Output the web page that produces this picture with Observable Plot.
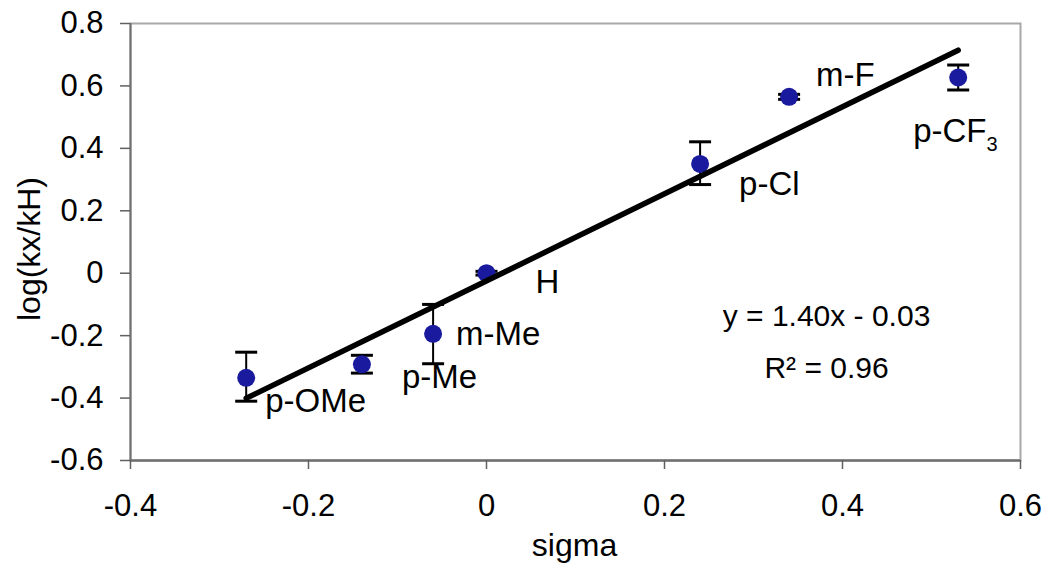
<!DOCTYPE html>
<html>
<head>
<meta charset="utf-8">
<script src="https://cdn.jsdelivr.net/npm/d3@7"></script>
<script src="https://cdn.jsdelivr.net/npm/@observablehq/plot@0.6"></script>
<style>
  html, body { margin: 0; padding: 0; background: #fff; }
  #chart svg { display: block; }
</style>
</head>
<body>
<div id="chart"></div>
<script>
// ---- data ----
const substituents = ["p-OMe", "p-Me", "m-Me", "H", "p-Cl", "m-F", "p-CF3"];
const sigma        = [-0.27, -0.14, -0.06, 0.00, 0.24, 0.34, 0.53];
const logRatio     = [-0.335, -0.292, -0.194, 0.000, 0.350, 0.565, 0.627];
const errLow       = [-0.410, -0.320, -0.290, -0.006, 0.284, 0.557, 0.587];
const errHigh      = [-0.253, -0.263, -0.100, 0.006, 0.421, 0.573, 0.667];
const xTicks = [-0.4, -0.2, 0, 0.2, 0.4, 0.6];
const yTicks = [-0.6, -0.4, -0.2, 0, 0.2, 0.4, 0.6, 0.8];
const fitText = ["y = 1.40x - 0.03", "R² = 0.96"];
const xTitle = "sigma";
const yTitle = "log(kx/kH)";

const rows = substituents.map((name, i) => ({
  name, sigma: sigma[i], logk: logRatio[i], lo: errLow[i], hi: errHigh[i]
}));

// label placement (pixel offsets from each point)
const labelOffset = {
  "p-OMe": [19, 24], "p-Me": [40, 13], "m-Me": [23, 1], "H": [49, 9],
  "p-Cl": [39, 20], "m-F": [27, -21], "p-CF3": [-45, 54]
};

const font = "'Liberation Sans', Arial, Helvetica, sans-serif";
const dotColor = "#1a1a9e";

// horizontal cap symbol for error bars
const capSymbol = {
  draw(context, size) {
    const w = Math.sqrt(size / Math.PI);
    context.moveTo(-w, 0);
    context.lineTo(w, 0);
  }
};

const chart = Plot.plot({
  width: 1050,
  height: 573,
  marginLeft: 130,
  marginRight: 30,
  marginTop: 23,
  marginBottom: 113,
  style: { fontFamily: font, fontSize: "31px", color: "#000", background: "#fff" },
  x: { domain: [xTicks[0], xTicks[xTicks.length - 1]] },
  y: { domain: [yTicks[0], yTicks[yTicks.length - 1]] },
  marks: [
    Plot.frame({ stroke: "#a8a8a8", strokeWidth: 2 }),
    Plot.ruleX([xTicks[0]], { stroke: "#707070", strokeWidth: 2 }),
    Plot.ruleY([yTicks[0]], { stroke: "#707070", strokeWidth: 2.5 }),
    Plot.axisX({
      ticks: xTicks, tickSize: 9, tickPadding: 24, stroke: "#606060",
      strokeWidth: 1.5, tickFormat: d => String(d), label: null, fontSize: 31
    }),
    Plot.axisY({
      ticks: yTicks, tickSize: 10, tickPadding: 17, stroke: "#606060",
      strokeWidth: 1.5, tickFormat: d => String(d), label: null, fontSize: 31
    }),
    // error bars
    Plot.ruleX(rows, { x: "sigma", y1: "lo", y2: "hi", stroke: "#000", strokeWidth: 2 }),
    Plot.dot(rows, { x: "sigma", y: "lo", symbol: capSymbol, r: 11, stroke: "#000", strokeWidth: 3, fill: "none" }),
    Plot.dot(rows, { x: "sigma", y: "hi", symbol: capSymbol, r: 11, stroke: "#000", strokeWidth: 3, fill: "none" }),
    // data points
    Plot.dot(rows, { x: "sigma", y: "logk", r: 9, fill: dotColor, stroke: "none" }),
    // least-squares trend line
    Plot.linearRegressionY(rows, { x: "sigma", y: "logk", ci: 0, stroke: "#000", strokeWidth: 5.5 }),
    // point labels
    ...rows.map(d => Plot.text([d], {
      x: "sigma", y: "logk", text: "name",
      dx: labelOffset[d.name][0], dy: labelOffset[d.name][1],
      textAnchor: "start", lineAnchor: "middle", fontSize: 33, fill: "#000"
    })),
    // fit equation
    Plot.text([fitText[0]], { frameAnchor: "top-left", dx: 696, dy: 293, textAnchor: "middle", lineAnchor: "middle", fontSize: 30, fill: "#000" }),
    Plot.text([fitText[1]], { frameAnchor: "top-left", dx: 696, dy: 345, textAnchor: "middle", lineAnchor: "middle", fontSize: 30, fill: "#000" }),
    // axis titles
    Plot.text([xTitle], { frameAnchor: "bottom", dx: -1, dy: 85, textAnchor: "middle", lineAnchor: "middle", fontSize: 32, fill: "#000" }),
    Plot.text([yTitle], { frameAnchor: "left", dx: -91, dy: 7, rotate: -90, textAnchor: "middle", lineAnchor: "bottom", fontSize: 32, fill: "#000" })
  ]
});

// subscript the 3 in p-CF3
chart.querySelectorAll("text").forEach(t => {
  if (t.textContent === "p-CF3") {
    t.textContent = "p-CF";
    const s = document.createElementNS("http://www.w3.org/2000/svg", "tspan");
    s.setAttribute("font-size", "20");
    s.setAttribute("dy", "9");
    s.textContent = "3";
    t.appendChild(s);
  }
});

document.getElementById("chart").appendChild(chart);
</script>
</body>
</html>
